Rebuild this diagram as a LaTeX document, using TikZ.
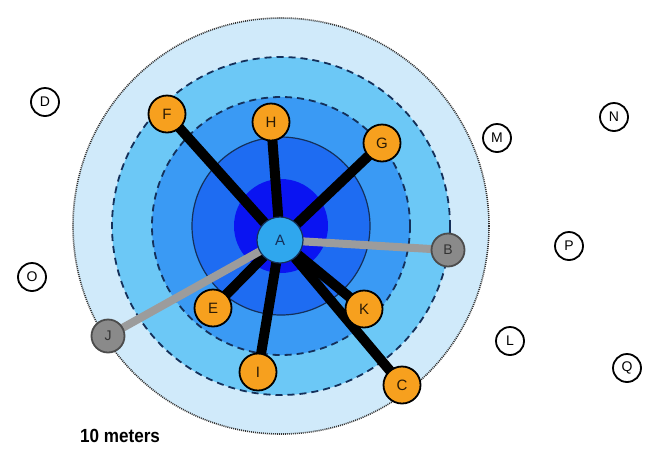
\documentclass[tikz,border=0pt]{standalone}
\usepackage{fontspec}
\setmainfont{Liberation Sans}
\definecolor{ringA}{HTML}{D0EAFA}
\definecolor{ringB}{HTML}{6CC8F6}
\definecolor{ringC}{HTML}{3A9AF4}
\definecolor{ringD}{HTML}{1E6CF2}
\definecolor{ringE}{HTML}{0A14F2}
\definecolor{hubC}{HTML}{2FA7EE}
\definecolor{orangeC}{HTML}{F7A01E}
\definecolor{grayN}{HTML}{8A8A8A}
\definecolor{grayL}{HTML}{9C9C9C}
\definecolor{navy}{HTML}{14305A}
\definecolor{letterC}{HTML}{2A1A05}
\pgfdeclarelayer{rings}
\pgfdeclarelayer{links}
\pgfsetlayers{rings,links,main}
\begin{document}
\begin{tikzpicture}[x=1pt,y=-1pt,
  orangenode/.style={circle, draw=black, line width=1.8pt, fill=orangeC, text=letterC, minimum size=37pt, inner sep=0pt, font=\fontsize{15}{15}\selectfont},
  graynode/.style={circle, draw=black!70, line width=1.8pt, fill=grayN, text=black!80, minimum size=33pt, inner sep=0pt, font=\fontsize{14}{14}\selectfont},
  whitenode/.style={circle, draw=black, line width=1.8pt, fill=white, minimum size=28pt, inner sep=0pt, font=\fontsize{14}{14}\selectfont},
  hubnode/.style={circle, draw=navy, line width=1.2pt, fill=hubC, text=navy, minimum size=46pt, inner sep=0pt, font=\fontsize{15}{15}\selectfont},
  blackline/.style={line width=10pt, black},
  grayline/.style={line width=8pt, grayL},
  dashring/.style={draw=navy, line width=1.8pt, dash pattern=on 7pt off 5pt},
  solidring/.style={draw=navy, line width=1.2pt}]
\useasboundingbox (0,0) rectangle (655,448);

% nodes
\node[hubnode] (A) at (280,240) {A};
\node[orangenode] (F) at (167,114) {F};
\node[orangenode] (H) at (271,122) {H};
\node[orangenode] (G) at (382,143) {G};
\node[orangenode] (E) at (213,308) {E};
\node[orangenode] (I) at (258,372) {I};
\node[orangenode] (K) at (364,309) {K};
\node[orangenode] (C) at (402,385) {C};
\node[graynode] (B) at (448,250) {B};
\node[graynode] (J) at (108,336) {J};
\node[whitenode] (D) at (45,102) {D};
\node[whitenode] (O) at (32,277) {O};
\node[whitenode] (M) at (497,138) {M};
\node[whitenode] (N) at (614,117) {N};
\node[whitenode] (P) at (569,246) {P};
\node[whitenode] (L) at (510,341) {L};
\node[whitenode] (Q) at (627,368) {Q};
\node[font=\bfseries\fontsize{19}{19}\selectfont, anchor=west, xscale=0.9] (scale) at (77,436) {10 meters};

\begin{pgfonlayer}{rings}
\fill[white] (0,0) rectangle (655,448);
\coordinate (ctr) at (281,226);
\fill[ringA] (ctr) circle[radius=208];
\draw[black!80, line width=1.6pt, dash pattern=on 1pt off 1pt] (ctr) circle[radius=208];
\fill[ringB] (ctr) circle[radius=169];
\draw[dashring] (ctr) circle[radius=169];
\fill[ringC] (ctr) circle[radius=129];
\draw[dashring] (ctr) circle[radius=129];
\fill[ringD] (ctr) circle[radius=89];
\draw[solidring] (ctr) circle[radius=89];
\fill[ringE] (ctr) circle[radius=47];
\end{pgfonlayer}

\begin{pgfonlayer}{links}
\draw[blackline] (F.center) -- (A.center);
\draw[blackline] (H.center) -- (A.center);
\draw[blackline] (G.center) -- (A.center);
\draw[blackline] (E.center) -- (A.center);
\draw[blackline] (I.center) -- (A.center);
\draw[blackline] (K.center) -- (A.center);
\draw[blackline] (C.center) -- (A.center);
\draw[grayline] (B.center) -- (A.center);
\draw[grayline] (J.center) -- (A.center);
\end{pgfonlayer}
\end{tikzpicture}
\end{document}
